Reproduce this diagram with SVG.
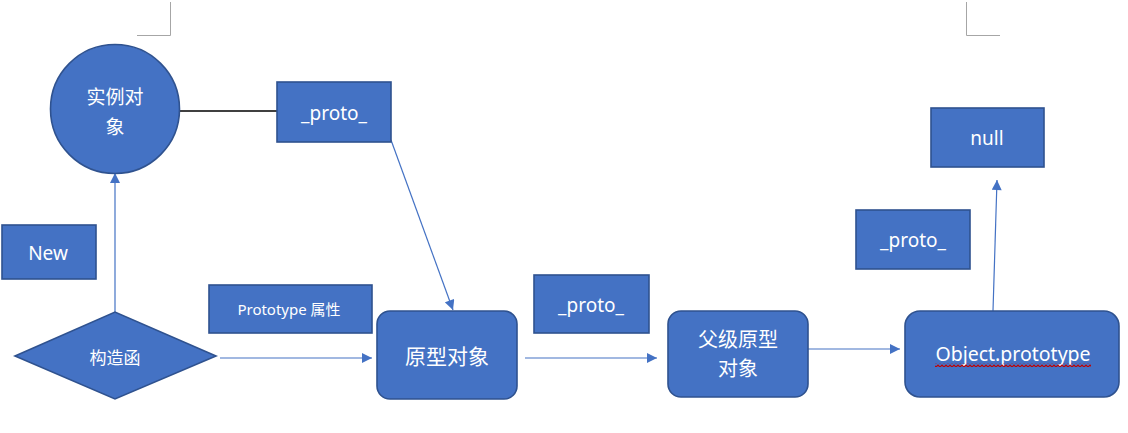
<svg xmlns="http://www.w3.org/2000/svg" width="1128" height="433" viewBox="0 0 1128 433">
<style>
.n{fill:#4472C4;stroke:#2F528F;stroke-width:1.6}
.t{fill:#FFFFFF;font-family:"Noto Sans","Noto Sans CJK SC",sans-serif;text-anchor:middle}
.c{stroke:#4472C4;stroke-width:1.2;fill:none}
.mark{stroke:#A6A6A6;stroke-width:1;fill:none}
</style>
<defs>
<marker id="arr" viewBox="0 0 10 10" refX="10" refY="5" markerWidth="11" markerHeight="10" markerUnits="userSpaceOnUse" orient="auto">
<path d="M0,0 L10,5 L0,10 z" fill="#4472C4"/>
</marker>
<pattern id="wave" x="0" y="0" width="4" height="4" patternUnits="userSpaceOnUse">
<path d="M0,3 L2,1 L4,3" stroke="#C00000" stroke-width="1.1" fill="none"/>
</pattern>
</defs>
<rect width="1128" height="433" fill="#FFFFFF"/>
<g id="marks">
<path class="mark" d="M170.5,2 V35.5 H137"/>
<path class="mark" d="M966.5,2 V35.5 H1000"/>
</g>
<g id="connectors">
<line x1="180" y1="111" x2="277" y2="111" stroke="#000000" stroke-width="1.4"/>
<line class="c" x1="115" y1="312" x2="115" y2="173" marker-end="url(#arr)"/>
<line class="c" x1="391" y1="140" x2="453" y2="310" marker-end="url(#arr)"/>
<line class="c" x1="220" y1="358" x2="372" y2="358" marker-end="url(#arr)"/>
<line class="c" x1="525" y1="358" x2="657" y2="358" marker-end="url(#arr)"/>
<line class="c" x1="808" y1="349" x2="900" y2="349" marker-end="url(#arr)"/>
<line class="c" x1="993" y1="311" x2="997" y2="180" marker-end="url(#arr)"/>
</g>
<g id="instance">
<circle class="n" cx="115" cy="109" r="64.5"/>
<text class="t" x="115" y="104" font-size="19">实例对</text>
<text class="t" x="115" y="134" font-size="19">象</text>
</g>
<g id="proto1">
<rect class="n" x="277" y="82" width="114" height="60"/>
<text class="t" x="334" y="120" font-size="19">_proto_</text>
</g>
<g id="new">
<rect class="n" x="2" y="225" width="94" height="54"/>
<text class="t" x="48" y="260" font-size="19">New</text>
</g>
<g id="constructor">
<polygon class="n" points="15,356 115,312 216,356 115,399"/>
<text class="t" x="115" y="364" font-size="17">构造函</text>
</g>
<g id="prototype-attr">
<rect class="n" x="209" y="285" width="163" height="48"/>
<text class="t" x="289" y="315" font-size="15">Prototype 属性</text>
</g>
<g id="proto-obj">
<rect class="n" x="377" y="311" width="140" height="88" rx="13"/>
<text class="t" x="447" y="364" font-size="21">原型对象</text>
</g>
<g id="proto2">
<rect class="n" x="534" y="275" width="115" height="58"/>
<text class="t" x="591" y="312" font-size="19">_proto_</text>
</g>
<g id="parent-proto">
<rect class="n" x="668" y="311" width="140" height="86" rx="13"/>
<text class="t" x="738" y="347" font-size="20">父级原型</text>
<text class="t" x="738" y="376" font-size="20">对象</text>
</g>
<g id="proto3">
<rect class="n" x="856" y="210" width="114" height="59"/>
<text class="t" x="913" y="247" font-size="19">_proto_</text>
</g>
<g id="null">
<rect class="n" x="931" y="108" width="113" height="59"/>
<text class="t" x="987" y="145" font-size="19">null</text>
</g>
<g id="object-prototype">
<rect class="n" x="905" y="311" width="214" height="86" rx="15"/>
<text class="t" x="1013" y="361" font-size="19.5">Object.prototype</text>
<rect x="935" y="363" width="156" height="4" fill="url(#wave)"/>
</g>
</svg>
